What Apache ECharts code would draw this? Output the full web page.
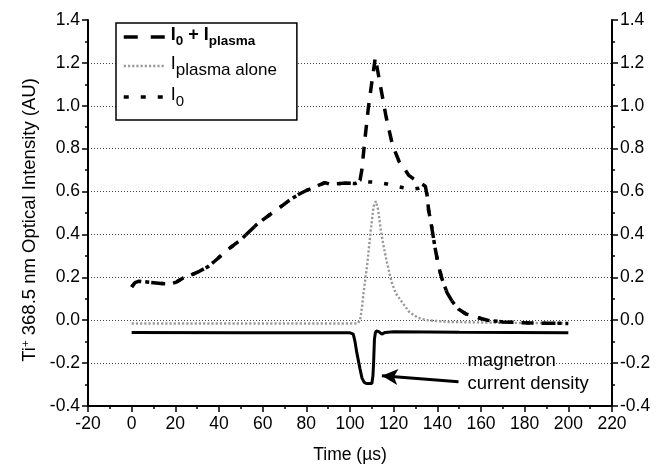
<!DOCTYPE html>
<html>
<head>
<meta charset="utf-8">
<script src="https://cdn.jsdelivr.net/npm/echarts@6/dist/echarts.min.js"></script>
<style>
html,body{margin:0;padding:0;background:#fff;}
#chart{width:663px;height:469px;}
</style>
</head>
<body>
<div id="chart"></div>
<script>
// ---------------- data ----------------
const seriesNames = ['I0 + Iplasma', 'Iplasma alone', 'I0', 'magnetron current density'];

// I0 (short dashes)
const i0Time  = [0, 1.5, 3.4, 8, 13.4, 18, 20.5, 23.4, 27, 31, 35, 38, 44, 50, 57, 61, 65, 69.3, 73, 77, 80, 84, 88.5, 90.8, 94, 97.7, 102.3, 105.4, 109, 113, 117, 120.7, 124.5, 128, 131.5, 134.5, 135.3, 136, 137.5, 139.1, 140.6, 142.2, 144.5, 147, 149.8, 153, 156, 160, 163, 170, 180, 190, 200];
const i0Value = [0.155, 0.175, 0.182, 0.177, 0.171, 0.170, 0.178, 0.196, 0.21, 0.228, 0.25, 0.275, 0.329, 0.375, 0.444, 0.475, 0.505, 0.537, 0.565, 0.59, 0.605, 0.622, 0.642, 0.634, 0.636, 0.64, 0.637, 0.65, 0.645, 0.642, 0.635, 0.626, 0.618, 0.61, 0.615, 0.622, 0.583, 0.514, 0.43, 0.329, 0.251, 0.19, 0.128, 0.085, 0.051, 0.03, 0.02, 0.008, 0.0, -0.008, -0.012, -0.014, -0.015];

// I0 + Iplasma (long dashes)
const sumTime  = [0, 1.5, 3.4, 8, 13.4, 18, 20.5, 23.4, 27, 31, 35, 38, 44, 50, 57, 61, 65, 69.3, 73, 77, 80, 84, 88.5, 90.8, 94, 97.7, 102.3, 104.6, 105.4, 106.9, 108.4, 110, 111.6, 113.8, 116.5, 119.5, 122.5, 125.3, 126.8, 129, 131.5, 134.5, 135.3, 136, 137.5, 139.1, 140.6, 142.2, 144.5, 147, 149.8, 153, 156, 160, 163, 170, 180, 190, 200];
const sumValue = [0.155, 0.175, 0.182, 0.177, 0.171, 0.170, 0.178, 0.196, 0.21, 0.228, 0.25, 0.275, 0.329, 0.375, 0.444, 0.475, 0.505, 0.537, 0.565, 0.59, 0.605, 0.622, 0.642, 0.634, 0.636, 0.64, 0.637, 0.653, 0.70, 0.85, 0.99, 1.11, 1.225, 1.10, 0.95, 0.815, 0.74, 0.70, 0.677, 0.66, 0.645, 0.625, 0.583, 0.514, 0.43, 0.329, 0.251, 0.19, 0.128, 0.085, 0.051, 0.03, 0.02, 0.008, 0.0, -0.008, -0.012, -0.014, -0.015];

// Iplasma alone (grey dots)
const plasmaTime  = [0, 50, 103.5, 104.6, 105.5, 106.1, 107, 108, 109.5, 110.8, 111.8, 112.8, 114.1, 115.5, 116.9, 119, 121, 123.8, 127, 131, 135, 145, 170, 200];
const plasmaValue = [-0.015, -0.015, -0.015, 0.0, 0.06, 0.12, 0.19, 0.27, 0.42, 0.53, 0.555, 0.52, 0.42, 0.34, 0.27, 0.18, 0.125, 0.085, 0.04, 0.012, 0.0, -0.008, -0.012, -0.014];

// magnetron current density (solid)
const magTime  = [0, 50, 100, 101.5, 102.3, 103.1, 104.6, 105.5, 106.5, 107.5, 110, 110.5, 110.8, 111.2, 111.6, 112, 113, 114.6, 116.1, 120, 150, 200];
const magValue = [-0.057, -0.058, -0.059, -0.065, -0.1, -0.15, -0.228, -0.27, -0.29, -0.295, -0.295, -0.26, -0.2, -0.088, -0.06, -0.05, -0.052, -0.065, -0.057, -0.054, -0.056, -0.058];

// axes
const xRange = [-20, 220], xStep = 20;
const yRange = [-0.4, 1.4], yStep = 0.2;
const xAxisTitle = 'Time (µs)';
const yAxisTitleParts = ['Ti', '+', ' 368.5 nm Optical Intensity (AU)'];

// annotation
const annotationLines = ['magnetron', 'current density'];
const arrowTail = [149.7, -0.287];
const arrowHead = [114.6, -0.259];
const annotationAnchor = [153.8, -0.186];

// ---------------- chart ----------------
const FONT = '"Liberation Sans", Arial, Helvetica, sans-serif';
const zip = (a, b) => a.map((t, i) => [t, b[i]]);
const fmt = v => (Math.abs(v) < 1e-9 ? 0 : v).toFixed(1);

const legendRich = {
  bm: {fontFamily: FONT, fontSize: 18, fontWeight: 'bold', color: '#000', lineHeight: 22, verticalAlign: 'top'},
  bs: {fontFamily: FONT, fontSize: 13.5, fontWeight: 'bold', color: '#000', lineHeight: 16, padding: [8, 0, 0, 0], verticalAlign: 'top'},
  m:  {fontFamily: FONT, fontSize: 18, color: '#000', lineHeight: 22, verticalAlign: 'top'},
  s:  {fontFamily: FONT, fontSize: 17, color: '#000', lineHeight: 18, padding: [7, 0, 0, 0], verticalAlign: 'top'},
  s0: {fontFamily: FONT, fontSize: 15, color: '#000', lineHeight: 16, padding: [8, 0, 0, 0], verticalAlign: 'top'}
};
const legendText = {
  'I0 + Iplasma': '{bm|I}{bs|0}{bm| + I}{bs|plasma}',
  'Iplasma alone': '{m|I}{s|plasma alone}',
  'I0': '{m|I}{s0|0}'
};

const axisCommon = {
  min: yRange[0], max: yRange[1], interval: yStep,
  axisLine: {show: true, onZero: false, lineStyle: {color: '#000', width: 2}},
  axisTick: {show: true, inside: false, length: 6, lineStyle: {color: '#000', width: 1.5}},
  minorTick: {show: true, splitNumber: 2, length: 3, lineStyle: {color: '#000', width: 1.5}},
  axisLabel: {color: '#000', fontFamily: FONT, fontSize: 17.5, margin: 8, formatter: fmt}
};

const hiddenSymbol = {opacity: 0, color: '#000', borderWidth: 0};
const GREY = '#9a9a9a';

const chart = echarts.init(document.getElementById('chart'), null, {renderer: 'canvas'});

const option = {
  animation: false,
  backgroundColor: '#fff',
  textStyle: {fontFamily: FONT},
  grid: {left: 88, right: 51, top: 20, bottom: 62, containLabel: false},
  legend: {
    orient: 'vertical', left: 116, top: 23,
    data: [
      {name: seriesNames[0], itemStyle: hiddenSymbol, lineStyle: {type: [14, 13], width: 3.5, color: '#000'}},
      {name: seriesNames[1], itemStyle: hiddenSymbol, lineStyle: {type: [2.2, 2], width: 2.4, color: GREY}},
      {name: seriesNames[2], itemStyle: hiddenSymbol, lineStyle: {type: [5, 12], width: 3.5, color: '#000'}}
    ],
    formatter: n => legendText[n],
    itemWidth: 42, itemHeight: 14, itemGap: 7,
    itemStyle: hiddenSymbol,
    padding: [3, 20, 11, 6],
    borderColor: '#000', borderWidth: 1.5, backgroundColor: '#fff',
    textStyle: {rich: legendRich, color: '#000'},
    selectedMode: false,
    z: 10
  },
  xAxis: {
    type: 'value', min: xRange[0], max: xRange[1], interval: xStep,
    name: xAxisTitle, nameLocation: 'middle', nameGap: 40,
    nameTextStyle: {color: '#000', fontFamily: FONT, fontSize: 17.5},
    axisLine: {show: true, onZero: false, lineStyle: {color: '#000', width: 2}},
    axisTick: {show: true, inside: false, length: 6, lineStyle: {color: '#000', width: 1.5}},
    minorTick: {show: true, splitNumber: 2, length: 3, lineStyle: {color: '#000', width: 1.5}},
    axisLabel: {color: '#000', fontFamily: FONT, fontSize: 17.5, margin: 9},
    splitLine: {show: false}
  },
  yAxis: [
    Object.assign({}, axisCommon, {
      type: 'value', position: 'left',
      name: '{n|' + yAxisTitleParts[0] + '}{sup|' + yAxisTitleParts[1] + '}{n|' + yAxisTitleParts[2] + '}',
      nameLocation: 'middle', nameGap: 46, nameRotate: 90,
      nameTextStyle: {
        color: '#000', fontFamily: FONT, fontSize: 18.5,
        padding: [0, 14, 0, 0],
        rich: {
          n: {fontFamily: FONT, fontSize: 18.5, color: '#000', lineHeight: 22, verticalAlign: 'top'},
          sup: {fontFamily: FONT, fontSize: 11.5, color: '#000', lineHeight: 12, verticalAlign: 'top'}
        }
      },
      splitLine: {show: true, showMinLine: false, showMaxLine: false, lineStyle: {color: '#444', width: 1, type: [1, 2]}}
    }),
    Object.assign({}, axisCommon, {
      type: 'value', position: 'right',
      splitLine: {show: false}
    })
  ],
  series: [
    {
      name: seriesNames[1], type: 'line', data: zip(plasmaTime, plasmaValue),
      showSymbol: false, symbol: 'none', z: 2, itemStyle: hiddenSymbol,
      lineStyle: {color: GREY, width: 2.4, type: [2.2, 2]}
    },
    {
      name: seriesNames[3], type: 'line', data: zip(magTime, magValue),
      showSymbol: false, symbol: 'none', z: 3, itemStyle: hiddenSymbol,
      lineStyle: {color: '#000', width: 3},
      markLine: {
        silent: true, symbol: ['none', 'arrow'], symbolSize: [12, 16],
        label: {show: false},
        lineStyle: {color: '#000', width: 3, type: 'solid'},
        itemStyle: {color: '#000', opacity: 1},
        data: [[{coord: arrowTail}, {coord: arrowHead}]]
      }
    },
    {
      name: seriesNames[2], type: 'line', data: zip(i0Time, i0Value),
      showSymbol: false, symbol: 'none', z: 4, itemStyle: hiddenSymbol,
      lineStyle: {color: '#000', width: 3.5, type: [4, 12], cap: 'butt'}
    },
    {
      name: seriesNames[0], type: 'line', data: zip(sumTime, sumValue),
      showSymbol: false, symbol: 'none', z: 5, itemStyle: hiddenSymbol,
      lineStyle: {color: '#000', width: 3.5, type: [12, 10], cap: 'butt'}
    }
  ]
};
chart.setOption(option);

// annotation text anchored to data coordinates
const p = chart.convertToPixel({xAxisIndex: 0, yAxisIndex: 0}, annotationAnchor);
chart.setOption({
  graphic: [{
    type: 'text', left: p[0], top: p[1] - 11, z: 20,
    style: {
      text: annotationLines.join('\n'),
      fontFamily: FONT, fontSize: 18.5, lineHeight: 23, fill: '#000'
    }
  }]
});
</script>
</body>
</html>
